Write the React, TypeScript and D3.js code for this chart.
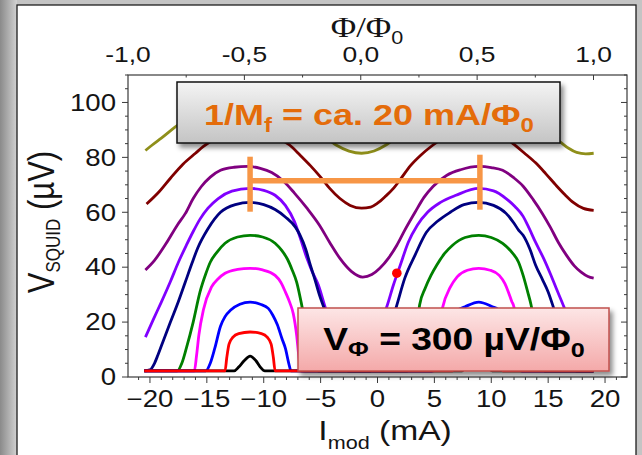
import React from "react";
import * as d3 from "d3";

const W = 642;
const H = 455;

// I_mod (mA) vs V_SQUID (µV)
type P = [number, number];

const olive: P[] = [
  [-20.4, 82.5], [-19.8, 84.5], [-19.0, 87.0], [-17.8, 91.0], [-16.5, 95.0], [-15.0, 98.5],
  [-13.2, 101.0], [-11.4, 102.0], [-9.8, 101.0], [-8.0, 98.0], [-6.2, 93.0], [-4.6, 87.5],
  [-3.6, 84.4], [-2.5, 82.3], [-1.4, 81.5], [-0.3, 82.3], [0.7, 84.4], [1.7, 87.5], [3.2, 93.0],
  [5.0, 98.0], [6.8, 101.0], [8.6, 102.0], [10.2, 101.0], [12.0, 98.5], [13.6, 94.0], [15.0, 89.0],
  [16.1, 85.5], [16.8, 83.3], [17.5, 81.8], [18.3, 81.3], [19.0, 81.5],
];

const maroon: P[] = [
  [-20.3, 63.0], [-19.3, 67.0], [-18.2, 72.4], [-17.1, 77.5], [-16.0, 81.5], [-15.3, 84.0],
  [-14.2, 87.0], [-12.8, 89.3], [-11.3, 90.0], [-9.9, 89.3], [-8.7, 87.0], [-7.7, 84.4],
  [-6.8, 80.8], [-5.9, 77.0], [-5.0, 72.8], [-4.2, 68.7], [-3.3, 65.0], [-2.4, 62.5], [-1.4, 61.5],
  [-0.6, 61.9], [0.0, 63.3], [0.7, 65.8], [1.4, 68.7], [2.1, 72.5], [2.9, 77.0], [3.8, 80.8],
  [4.6, 83.6], [5.8, 87.0], [7.2, 89.3], [8.7, 90.0], [10.2, 89.0], [11.2, 87.0], [11.9, 85.0],
  [12.9, 81.6], [13.9, 78.0], [14.8, 74.0], [15.7, 69.8], [16.5, 66.3], [17.2, 63.6], [18.1, 61.4],
  [19.0, 60.7],
];

const purple: P[] = [
  [-20.4, 39.0], [-19.6, 42.5], [-18.6, 48.5], [-17.6, 55.3], [-16.9, 59.5], [-16.2, 65.0],
  [-15.5, 69.3], [-14.7, 72.8], [-13.8, 75.3], [-12.6, 76.4], [-11.4, 76.7], [-10.3, 76.0],
  [-9.3, 74.5], [-8.3, 71.5], [-7.3, 67.0], [-6.2, 61.5], [-5.1, 55.3], [-4.2, 49.0], [-3.3, 43.2],
  [-2.3, 38.5], [-1.3, 36.4], [-0.5, 37.3], [0.2, 39.6], [1.0, 43.5], [1.7, 48.0], [2.4, 53.5],
  [3.3, 60.0], [4.1, 65.5], [4.9, 69.5], [6.1, 73.5], [7.3, 75.5], [8.9, 76.7], [10.0, 76.3],
  [11.0, 75.3], [12.0, 72.5], [12.8, 69.5], [13.7, 64.5], [14.5, 59.5], [15.2, 54.5], [15.9, 49.0],
  [16.6, 44.4], [17.3, 40.5], [17.9, 38.2], [18.5, 36.6], [19.0, 36.0],
];

const violet: P[] = [
  [-20.4, 14.5], [-19.7, 21.0], [-19.0, 27.3], [-18.2, 34.8], [-17.5, 41.8], [-16.8, 48.0],
  [-16.2, 53.0], [-15.6, 57.5], [-14.9, 61.5], [-14.0, 65.0], [-12.8, 67.7], [-11.2, 68.7],
  [-10.0, 68.0], [-9.0, 66.2], [-8.1, 62.5], [-7.3, 56.6], [-6.8, 50.8], [-6.2, 43.2], [-5.7, 38.0],
  [-5.2, 33.5], [-4.6, 25.4], [-4.0, 18.0], [-3.2, 10.0], [-2.4, 5.5], [-1.8, 4.5], [-1.1, 6.5],
  [-0.4, 13.0], [0.2, 19.0], [0.8, 25.4], [1.4, 33.5], [2.0, 40.7], [2.7, 49.0], [3.5, 55.3],
  [4.4, 60.0], [5.5, 63.5], [6.9, 66.2], [8.9, 68.7], [10.2, 67.8], [11.3, 65.0], [12.1, 62.0],
  [12.8, 58.5], [13.2, 55.3], [13.9, 49.0], [14.6, 43.2], [15.2, 37.5], [15.7, 32.4], [16.4, 25.4],
  [17.0, 18.5], [17.8, 10.5], [18.5, 6.0], [19.0, 5.0],
];

const navy: P[] = [
  [-20.5, 2.2], [-20.0, 2.6], [-19.6, 5.0], [-19.3, 8.0], [-18.8, 13.5], [-18.2, 20.0],
  [-17.5, 27.5], [-16.9, 34.5], [-16.3, 41.5], [-15.8, 47.0], [-14.9, 54.0], [-13.8, 60.0],
  [-12.5, 62.8], [-11.2, 63.6], [-10.0, 62.8], [-9.0, 61.0], [-8.1, 58.3], [-7.2, 54.5],
  [-6.8, 51.6], [-6.3, 46.5], [-5.9, 40.7], [-5.5, 35.5], [-5.1, 29.8], [-4.6, 24.0], [-4.0, 16.0],
  [-3.4, 8.5], [-2.9, 3.5], [-2.5, 2.2], [-0.6, 2.2], [-0.1, 4.5], [0.5, 10.5], [1.1, 18.0],
  [1.7, 26.2], [2.4, 36.0], [3.3, 44.4], [4.3, 52.7], [5.3, 56.8], [6.4, 60.0], [7.6, 62.8],
  [8.9, 63.6], [10.2, 62.5], [11.3, 59.6], [12.0, 56.0], [12.4, 53.5], [12.8, 51.6], [13.4, 46.5],
  [13.9, 40.7], [14.5, 35.5], [15.0, 31.0], [15.4, 26.2], [16.0, 18.0], [16.6, 10.0], [17.1, 4.0],
  [17.5, 2.2], [19.0, 2.2],
];

const green: P[] = [
  [-20.5, 2.2], [-17.6, 2.2], [-17.2, 5.0], [-16.8, 10.5], [-16.2, 20.0], [-15.6, 31.0],
  [-15.1, 37.5], [-14.7, 41.8], [-14.1, 45.5], [-13.4, 48.7], [-12.3, 51.0], [-11.2, 51.6],
  [-10.1, 51.0], [-9.0, 48.7], [-8.4, 46.0], [-7.9, 42.8], [-7.5, 39.0], [-7.1, 34.5], [-6.7, 27.0],
  [-6.3, 18.0], [-5.9, 9.0], [-5.5, 3.5], [-5.1, 2.2], [2.6, 2.2], [3.0, 6.0], [3.4, 16.0],
  [3.7, 26.2], [4.2, 32.4], [4.7, 37.0], [5.2, 40.7], [5.9, 45.0], [6.6, 48.0], [7.7, 50.8],
  [8.9, 51.6], [10.0, 50.8], [11.0, 48.7], [11.8, 45.5], [12.4, 41.8], [12.8, 37.0], [13.2, 31.0],
  [13.5, 26.2], [13.9, 16.0], [14.3, 6.0], [14.7, 2.2], [19.0, 2.2],
];

const magenta: P[] = [
  [-20.5, 2.2], [-16.1, 2.2], [-15.9, 8.0], [-15.7, 15.3], [-15.3, 24.5], [-14.6, 32.7],
  [-14.0, 35.8], [-13.4, 37.8], [-12.3, 39.2], [-11.2, 39.6], [-10.1, 39.0], [-9.0, 37.0],
  [-8.5, 34.5], [-8.1, 31.0], [-7.7, 27.0], [-7.4, 23.0], [-7.1, 15.0], [-6.9, 7.0], [-6.7, 2.2],
  [4.9, 2.2], [5.1, 8.0], [5.3, 15.0], [5.7, 25.0], [6.4, 32.7], [7.0, 36.5], [7.9, 38.9],
  [8.9, 39.6], [9.9, 38.9], [10.7, 37.0], [11.2, 34.0], [11.5, 31.0], [11.8, 27.5], [12.0, 25.4],
  [12.2, 16.0], [12.5, 7.0], [12.7, 2.2], [19.0, 2.2],
];

const blue: P[] = [
  [-20.5, 2.2], [-15.1, 2.2], [-14.7, 5.0], [-14.3, 10.5], [-13.8, 18.5], [-13.4, 22.0],
  [-12.9, 24.4], [-12.1, 26.5], [-11.2, 27.3], [-10.3, 26.5], [-9.6, 25.0], [-9.2, 22.5],
  [-8.8, 19.0], [-8.4, 14.0], [-8.1, 10.5], [-7.8, 5.0], [-7.6, 2.2], [4.8, 2.2], [5.2, 5.0],
  [5.6, 10.5], [6.1, 18.5], [6.5, 22.0], [7.0, 24.2], [7.7, 25.6], [8.9, 27.3], [10.1, 25.6],
  [10.6, 24.6], [11.0, 22.5], [11.4, 19.0], [11.8, 14.0], [12.1, 10.5], [12.4, 5.0], [12.6, 2.2],
  [19.0, 2.2],
];

const black: P[] = [
  [-20.5, 2.2], [-12.6, 2.2], [-12.2, 3.6], [-11.7, 6.0], [-11.2, 7.6], [-10.7, 6.0],
  [-10.3, 3.6], [-9.9, 2.2], [7.4, 2.2], [7.8, 3.6], [8.3, 6.0], [8.8, 7.6], [9.3, 6.0],
  [9.7, 3.6], [10.1, 2.2], [19.0, 2.2],
];

const red: P[] = [
  [-20.5, 2.2], [-13.4, 2.2], [-13.25, 7.0], [-13.05, 12.0], [-12.7, 14.5], [-12.2, 15.8],
  [-11.2, 16.4], [-10.2, 15.8], [-9.7, 14.5], [-9.35, 12.0], [-9.15, 7.0], [-9.0, 2.2],
  [6.6, 2.2], [6.75, 7.0], [6.95, 12.0], [7.3, 14.5], [7.8, 15.8], [8.8, 16.4], [9.8, 15.8],
  [10.3, 14.5], [10.65, 12.0], [10.85, 7.0], [11.0, 2.2], [19.0, 2.2],
];

const series = [
  { color: "#8f8f1a", pts: olive },
  { color: "#800000", pts: maroon },
  { color: "#800080", pts: purple },
  { color: "#8000ff", pts: violet },
  { color: "#000080", pts: navy },
  { color: "#008000", pts: green },
  { color: "#ff00ff", pts: magenta },
  { color: "#0000ff", pts: blue },
  { color: "#000000", pts: black },
  { color: "#ff0000", pts: red },
];

// working point and the period bracket
const workPoint: P = [1.7, 37.8];
const periodEnds = [-11.2, 9.0];
const periodLevel = 71.5;

const vTicks = [0, 20, 40, 60, 80, 100];
const iTicks = [-20, -15, -10, -5, 0, 5, 10, 15, 20];
const iLabels = ["−20", "−15", "−10", "−5", "0", "5", "10", "15", "20"];
const phiTicks = [-1, -0.5, 0, 0.5, 1];
const phiLabels = ["-1,0", "-0,5", "0,0", "0,5", "1,0"];

const FONT = "'Liberation Sans', Arial, Helvetica, sans-serif";
const SX = 1.2; // the picture is stretched sideways

function T({ x, y, size, anchor = "middle", bold = false, fill = "#141414", rot = 0, family = FONT, children }: any) {
  const tr = `translate(${x},${y}) scale(${SX},1)` + (rot ? ` rotate(${rot})` : "");
  return (
    <text transform={tr} fontSize={size} textAnchor={anchor} fontWeight={bold ? "bold" : "normal"}
      fill={fill} fontFamily={family}>
      {children}
    </text>
  );
}

export default function App() {
  const L = 128, R = 627, TOP = 75, B = 377;
  const x = d3.scaleLinear().domain([-21.93, 21.93]).range([L, R]);
  const y = d3.scaleLinear().domain([0, 110]).range([B, TOP]);
  const phi = d3.scaleLinear().domain([-1, 1]).range([L, 593.5]);

  const line = d3.line<P>().x(d => x(d[0])).y(d => y(d[1])).curve(d3.curveMonotoneX);

  const iMinor = d3.range(-21, 22, 1);
  const vMinor = d3.range(0, 111, 5);
  const phiMinor = d3.range(-1, 1.01, 0.25);
  const axis = "#3a3a3a";

  return (
    <div style={{ position: "absolute", left: 0, top: 0 }}>
      <svg width={W} height={H} style={{ display: "block" }}>
        <defs>
          <linearGradient id="side" x1="0" x2="1" y1="0" y2="0">
            <stop offset="0" stopColor="#8a8a8a" />
            <stop offset="1" stopColor="#d2d2d2" />
          </linearGradient>
          <linearGradient id="grayBox" x1="0" x2="0" y1="0" y2="1">
            <stop offset="0" stopColor="#f4f4f4" />
            <stop offset="1" stopColor="#c4c4c4" />
          </linearGradient>
          <linearGradient id="pinkBox" x1="0" x2="0" y1="0" y2="1">
            <stop offset="0" stopColor="#fde6e6" />
            <stop offset="1" stopColor="#f4a9a9" />
          </linearGradient>
          <filter id="shadow" x="-10%" y="-20%" width="125%" height="150%">
            <feDropShadow dx="3" dy="4" stdDeviation="2.5" floodColor="#000" floodOpacity="0.45" />
          </filter>
        </defs>

        {/* slide frame */}
        <rect x={0} y={0} width={W} height={H} fill="#c4c4c4" />
        <rect x={0} y={0} width={17} height={H} fill="url(#side)" />
        <rect x={17} y={5} width={619} height={H} fill="#fff" stroke="#1e1e1e" strokeWidth={1.3} />

        {/* curves */}
        {series.map((s, i) => (
          <path key={i} d={line(s.pts) || ""} fill="none" stroke={s.color} strokeWidth={2.8}
            strokeLinejoin="round" />
        ))}

        {/* plot frame */}
        <rect x={L} y={TOP} width={R - L} height={B - TOP} fill="none" stroke={axis} strokeWidth={1.2} />

        {/* left / right ticks */}
        {vMinor.map(v => {
          const major = v % 20 === 0;
          const len = major ? 6 : 3;
          return (
            <g key={"v" + v} stroke={axis} strokeWidth={1}>
              <line x1={L - len} x2={L} y1={y(v)} y2={y(v)} />
              <line x1={R - len} x2={R} y1={y(v)} y2={y(v)} />
            </g>
          );
        })}
        {vTicks.map(v => (
          <T key={"vl" + v} x={116} y={y(v) + 8.3} size={23} anchor="end">{String(v)}</T>
        ))}

        {/* bottom ticks */}
        {iMinor.filter(v => x(v) > L && x(v) < R).map(v => {
          const len = v % 5 === 0 ? 6 : 3;
          return <line key={"i" + v} x1={x(v)} x2={x(v)} y1={B} y2={B + len} stroke={axis} strokeWidth={1} />;
        })}
        {iTicks.map((v, k) => (
          <T key={"il" + v} x={x(v)} y={B + 30} size={23}>{iLabels[k]}</T>
        ))}

        {/* top ticks (flux axis) */}
        {phiMinor.filter(v => phi(v) > L + 1 && phi(v) < R).map(v => {
          const len = Math.abs(v * 2 - Math.round(v * 2)) < 1e-6 ? 5 : 2.5;
          return <line key={"p" + v} x1={phi(v)} x2={phi(v)} y1={TOP} y2={TOP + len} stroke={axis} strokeWidth={1} />;
        })}
        {phiTicks.map((v, k) => (
          <T key={"pl" + v} x={phi(v)} y={62} size={22}>{phiLabels[k]}</T>
        ))}

        {/* axis titles */}
        <T x={367} y={37} size={29}>
          <tspan fontFamily="'Liberation Serif', 'Times New Roman', serif">Φ/Φ</tspan>
          <tspan fontSize={18} dy={7}>0</tspan>
        </T>
        <T x={385} y={440} size={28}>
          I<tspan fontSize={18} dy={9}>mod</tspan><tspan dy={-9}> (mA)</tspan>
        </T>
        <T x={54} y={222} size={31} rot={-90} anchor="middle">
          V<tspan fontSize={17} dy={5}>SQUID</tspan><tspan dy={-5}> (µV)</tspan>
        </T>

        {/* period bracket */}
        <g stroke="#f79646" strokeWidth={5.5}>
          <line x1={x(periodEnds[0])} x2={x(periodEnds[1])} y1={y(periodLevel)} y2={y(periodLevel)} />
          <line x1={x(periodEnds[0])} x2={x(periodEnds[0])} y1={y(periodLevel) - 24} y2={y(periodLevel) + 31} />
          <line x1={x(periodEnds[1])} x2={x(periodEnds[1])} y1={y(periodLevel) - 26} y2={y(periodLevel) + 29} />
        </g>

        {/* working point */}
        <circle cx={x(workPoint[0])} cy={y(workPoint[1])} r={4.8} fill="#ff0000" />

        {/* annotation boxes */}
        <rect x={177} y={82} width={383} height={61} fill="url(#grayBox)" stroke="#111" strokeWidth={1.5}
          filter="url(#shadow)" />
        <T x={369} y={125} size={30} bold fill="#e46c0a">
          1/M<tspan fontSize={20} dy={7}>f</tspan><tspan dy={-7}> = ca. 20 mA/Φ</tspan>
          <tspan fontSize={20} dy={7}>0</tspan>
        </T>

        <rect x={298} y={308} width={311} height={63} fill="url(#pinkBox)" stroke="#c0504d" strokeWidth={1.5}
          filter="url(#shadow)" />
        <T x={454} y={350} size={31} bold fill="#000">
          V<tspan fontSize={21} dy={6}>Φ</tspan><tspan dy={-6}> = 300 µV/Φ</tspan>
          <tspan fontSize={21} dy={7}>0</tspan>
        </T>
      </svg>
    </div>
  );
}
